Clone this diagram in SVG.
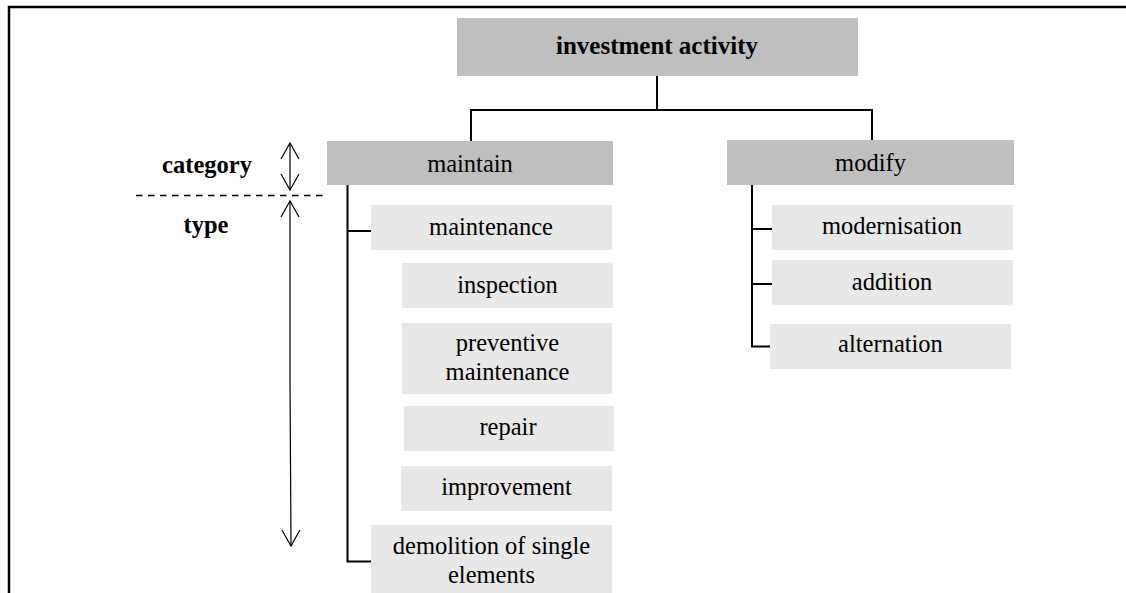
<svg xmlns="http://www.w3.org/2000/svg" width="1126" height="593" viewBox="0 0 1126 593">
<defs>
<style>
.dark{fill:#bfbfbf}
.light{fill:#e8e8e8}
text{font-family:"Liberation Serif","Times New Roman",serif;font-size:24.5px;fill:#000;text-anchor:middle}
.b{font-weight:bold}
.ln{stroke:#000;stroke-width:2;fill:none}
.th{stroke:#000;stroke-width:1.2;fill:none}
</style>
<marker id="oa" viewBox="0 0 20 20" refX="18" refY="10" markerWidth="20" markerHeight="20" markerUnits="userSpaceOnUse" orient="auto-start-reverse">
<path d="M2,1 L18,10 L2,19" fill="none" stroke="#000" stroke-width="1.2"/>
</marker>
</defs>
<rect width="1126" height="593" fill="#fff"/>
<g id="frame">
<path d="M9,593 V7 H1126" stroke="#000" stroke-width="2.5" fill="none"/>
</g>
<g id="connectors">
<path class="ln" d="M657,76 V110 M471,141 V110 H872 V140"/>
<path class="ln" d="M347.5,185 V561.5 H371 M347.5,231 H371"/>
<path class="ln" d="M752,185 V346.5 H770 M752,229 H772 M752,284 H772"/>
</g>
<g id="legend">
<text class="b" x="207" y="173">category</text>
<text class="b" x="206" y="233">type</text>
<path d="M136,195.5 H328" stroke="#000" stroke-width="1.5" stroke-dasharray="6.5,5.5" fill="none"/>
<line class="th" x1="290" y1="167" x2="290" y2="143" marker-end="url(#oa)"/>
<line class="th" x1="290" y1="167" x2="290" y2="190" marker-end="url(#oa)"/>
<line class="th" x1="290" y1="380" x2="290" y2="201" marker-end="url(#oa)"/>
<line class="th" x1="290" y1="380" x2="291" y2="546" marker-end="url(#oa)"/>
</g>
<g id="investment-activity">
<rect class="dark" x="457" y="18" width="401" height="58"/>
<text class="b" x="657" y="54" style="font-size:25px">investment activity</text>
</g>
<g id="maintain">
<rect class="dark" x="327" y="141" width="286" height="44"/>
<text x="470" y="172">maintain</text>
</g>
<g id="modify">
<rect class="dark" x="727" y="140" width="287" height="45"/>
<text x="870.5" y="171">modify</text>
</g>
<g id="maintenance">
<rect class="light" x="371" y="205" width="241" height="45"/>
<text x="491" y="235">maintenance</text>
</g>
<g id="inspection">
<rect class="light" x="402" y="263" width="211" height="45"/>
<text x="507.5" y="293">inspection</text>
</g>
<g id="preventive-maintenance">
<rect class="light" x="402" y="323" width="210" height="71"/>
<text x="507.5" y="351">preventive</text>
<text x="507.5" y="380">maintenance</text>
</g>
<g id="repair">
<rect class="light" x="404" y="406" width="210" height="45"/>
<text x="508" y="435">repair</text>
</g>
<g id="improvement">
<rect class="light" x="401" y="466" width="211" height="45"/>
<text x="506.5" y="495">improvement</text>
</g>
<g id="demolition">
<rect class="light" x="371" y="525" width="241" height="68"/>
<text x="491.5" y="554">demolition of single</text>
<text x="491.5" y="583">elements</text>
</g>
<g id="modernisation">
<rect class="light" x="772" y="205" width="241" height="45"/>
<text x="892" y="234">modernisation</text>
</g>
<g id="addition">
<rect class="light" x="772" y="260" width="241" height="45"/>
<text x="892" y="290">addition</text>
</g>
<g id="alternation">
<rect class="light" x="770" y="324" width="241" height="45"/>
<text x="890.5" y="352">alternation</text>
</g>
</svg>
